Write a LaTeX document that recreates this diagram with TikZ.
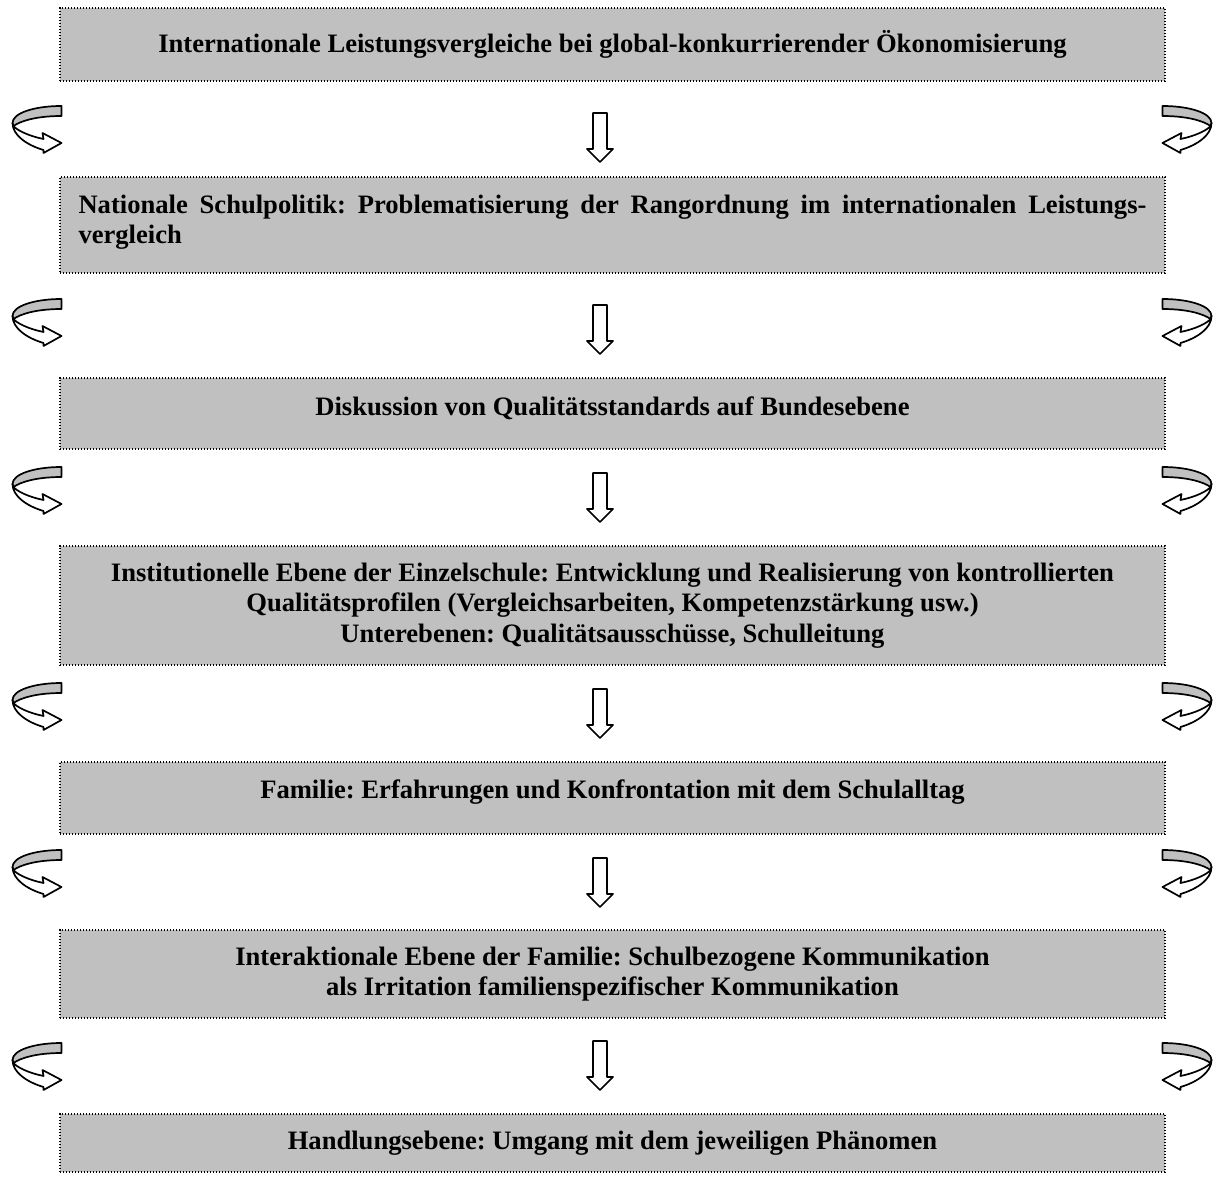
\documentclass[tikz,border=0pt]{standalone}
\usepackage{fontspec}
\setmainfont{Liberation Serif}
\frenchspacing
\definecolor{boxgray}{HTML}{C0C0C0}
\tikzstyle{level}=[rectangle, draw=black, fill=boxgray, line width=0.65pt, dash pattern=on 0.7pt off 0.8pt, minimum width=552.5pt, inner sep=0pt, align=center, font=\fontsize{13.3}{15.3}\selectfont\bfseries]

\begin{document}
\begin{tikzpicture}[x=0.5pt, y=-0.5pt,
    ribbon/.style = {draw=black, line width=0.85pt, line join=round},
    curl/.pic = {
      \path[ribbon, fill=boxgray] (25,-23) .. controls (-2,-23) and (-24,-16) .. (-24,-6) -- (-23,-3) .. controls (-16,-8) and (0,-13) .. (25,-13) -- cycle;
      \path[ribbon, fill=white] (-24,-6) .. controls (-24,6) and (-10,16) .. (7,21) -- (7,24) -- (25,14) -- (6,4) -- (7,10) .. controls (-8,7) and (-20,1) .. (-23,-3) -- cycle;
    },
    sink/.pic = {
      \path[ribbon, fill=white] (-7,-24.5) -- (7,-24.5) -- (7,11.5) -- (13,11.5) -- (0,24.5) -- (-13,11.5) -- (-7,11.5) -- cycle;
    }]
    \useasboundingbox (0,0) rectangle (1216,1181);

    \node[level, minimum height=36.5pt] (global) at (612.5,44.5) {Internationale Leistungsvergleiche bei global-konkurrierender Ökonomisierung};
    \node[level, minimum height=48pt, text width=534pt, align=justify, text depth=21pt] (national) at (612.5,225) {Nationale Schulpolitik: Problematisierung der Rangordnung im internationalen Leistungs-\linebreak vergleich};
    \node[level, minimum height=35.5pt, text depth=6.9pt] (bund) at (612.5,413.5) {Diskussion von Qualitätsstandards auf Bundesebene};
    \node[level, minimum height=59.5pt] (schule) at (612.5,605.5) {Institutionelle Ebene der Einzelschule: Entwicklung und Realisierung von kontrollierten\\ Qualitätsprofilen (Vergleichsarbeiten, Kompetenzstärkung usw.)\\ Unterebenen: Qualitätsausschüsse, Schulleitung};
    \node[level, minimum height=36pt, text depth=8.9pt] (familie) at (612.5,798) {Familie: Erfahrungen und Konfrontation mit dem Schulalltag};
    \node[level, minimum height=44pt] (interaktion) at (612.5,974) {Interaktionale Ebene der Familie: Schulbezogene Kommunikation\\ als Irritation familienspezifischer Kommunikation};
    \node[level, minimum height=29pt] (handlung) at (612.5,1143) {Handlungsebene: Umgang mit dem jeweiligen Phänomen};

    \foreach \yc/\ya in {129/137.5, 322/329.5, 490/497.5, 706/713.5, 873/882.5, 1066/1065.5} {
      \pic at (36.5,\yc) {curl};
      \pic[xscale=-1] at (1187.5,\yc) {curl};
      \pic at (600,\ya) {sink};
    }
\end{tikzpicture}
\end{document}
